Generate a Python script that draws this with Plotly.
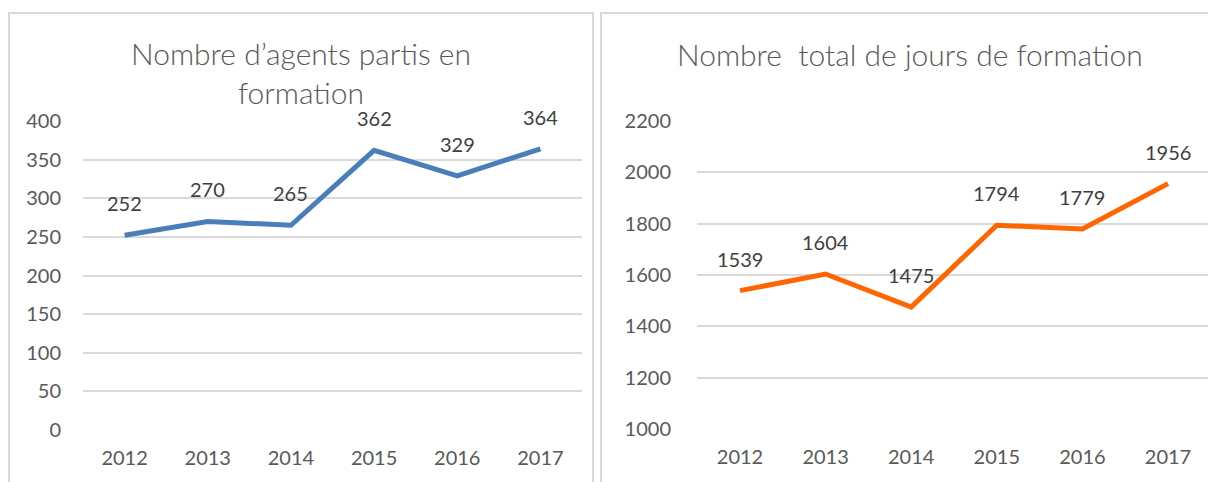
import plotly.graph_objects as go

years = ["2012", "2013", "2014", "2015", "2016", "2017"]
agents = [252, 270, 265, 362, 329, 364]
jours = [1539, 1604, 1475, 1794, 1779, 1956]

title_left = "Nombre d\u2019agents partis en<br>formation"
title_right = "Nombre\u00a0 total de jours de formation"

W, H = 1208, 482
FONT = "Lato"
GRID = "#d9d9d9"
TICK_COL = "#595959"
LABEL_COL = "#404040"

def px_x(v):
    return v / W

def px_y(v):
    return (H - v) / H

fig = go.Figure()
fig.add_trace(go.Scatter(x=years, y=agents, mode="lines",
                         line=dict(color="#4a7ebb", width=5),
                         xaxis="x", yaxis="y", hoverinfo="skip", showlegend=False))
fig.add_trace(go.Scatter(x=years, y=jours, mode="lines",
                         line=dict(color="#ff6600", width=5),
                         xaxis="x2", yaxis="y2", hoverinfo="skip", showlegend=False))

annotations = []
for xr, yr, ys in (("x", "y", agents), ("x2", "y2", jours)):
    for i, v in enumerate(ys):
        annotations.append(dict(x=i, y=v, xref=xr, yref=yr, text=str(v),
                                showarrow=False, yshift=32, yanchor="middle",
                                font=dict(family=FONT, size=20, color=LABEL_COL)))

annotations.append(dict(x=px_x(301), y=px_y(72), xref="paper", yref="paper",
                        text=title_left, showarrow=False, xanchor="center", yanchor="middle",
                        font=dict(family=FONT, size=30, color=TICK_COL, weight=300)))
annotations.append(dict(x=px_x(910), y=px_y(54), xref="paper", yref="paper",
                        text=title_right, showarrow=False, xanchor="center", yanchor="middle",
                        font=dict(family=FONT, size=30, color=TICK_COL, weight=300)))

axis_common = dict(showline=False, zeroline=False, ticks="", automargin=False,
                   tickfont=dict(family=FONT, size=20, color=TICK_COL))

fig.update_layout(
    template="none",
    width=W, height=H, autosize=False,
    margin=dict(l=0, r=0, t=0, b=0, pad=0, autoexpand=False),
    paper_bgcolor="white", plot_bgcolor="white",
    xaxis=dict(domain=[px_x(83), px_x(582)], type="category", range=[-0.5, 5.5],
               showgrid=False, anchor="y", ticklabelstandoff=14, **axis_common),
    yaxis=dict(domain=[px_y(430), px_y(121)], range=[0, 400], dtick=50,
               showgrid=True, gridcolor=GRID, gridwidth=1.5, anchor="x",
               ticklabelstandoff=21, **axis_common),
    xaxis2=dict(domain=[px_x(697), 1.0], type="category", range=[-0.502, 5.467],
                showgrid=False, anchor="y2", ticklabelstandoff=14, **axis_common),
    yaxis2=dict(domain=[px_y(429), px_y(121)], range=[1000, 2200], dtick=200,
                showgrid=True, gridcolor=GRID, gridwidth=1.5, anchor="x2",
                ticklabelstandoff=25, **axis_common),
    annotations=annotations,
    shapes=[
        dict(type="rect", xref="paper", yref="paper",
             x0=px_x(9), x1=px_x(593), y0=px_y(490), y1=px_y(13),
             line=dict(color=GRID, width=2), fillcolor="rgba(0,0,0,0)", layer="below"),
        dict(type="rect", xref="paper", yref="paper",
             x0=px_x(601), x1=px_x(1215), y0=px_y(490), y1=px_y(13),
             line=dict(color=GRID, width=2), fillcolor="rgba(0,0,0,0)", layer="below"),
    ],
)

fig.write_html("out.html", config={"displayModeBar": False},
               post_script="document.body.style.margin='0';document.body.style.overflow='hidden';")
